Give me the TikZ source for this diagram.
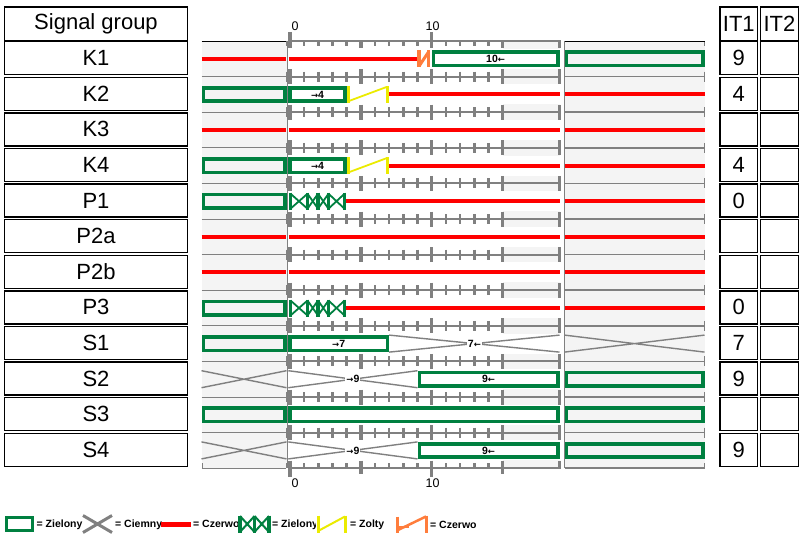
\documentclass[tikz,border=0pt]{standalone}
\usepackage{fontspec}
\setmainfont{Liberation Sans}
\newfontfamily\arrfont{DejaVu Sans}
\definecolor{sgreen}{RGB}{0,128,64}
\definecolor{sgray}{RGB}{128,128,128}
\definecolor{bggray}{RGB}{244,244,244}
\definecolor{sred}{RGB}{255,0,0}
\definecolor{syellow}{RGB}{235,235,0}
\definecolor{sorange}{RGB}{255,125,60}
\newcommand\gbox[4]{\draw[gbx,fill=#4] (#1+1.8,#3-6.7) rectangle (#2-1.8,#3+6.7);}
\newcommand\rline[3]{\draw[redl] (#1,#3) -- (#2,#3);}
\newcommand\xdark[3]{\draw[gxs] (#1,#3-8.5) -- (#2,#3+8.5) (#1,#3+8.5) -- (#2,#3-8.5);}
\newcommand\yelz[3]{%
  \draw[syellow,line width=3pt] (#1,#3-8.5) -- (#1,#3+8.5);
  \draw[syellow,line width=1.8pt] (#1+1,#3+6.5) -- (#2-1,#3-7.5);
  \draw[syellow,line width=3pt] (#2,#3-8.5) -- (#2,#3+8.5);}
\newcommand\flashg[1]{%
  \foreach \xa/\xb in {290.5/307.5,307.5/318,318/328.5,328.5/344.5}
    {\draw[sgreen,line width=1.8pt] (\xa,#1-7.5) -- (\xb,#1+7.5) (\xa,#1+7.5) -- (\xb,#1-7.5);}
  \foreach \xa in {290.5,307.5,318,328.5,344.5}
    {\draw[sgreen,line width=3.6pt] (\xa,#1-8.5) -- (\xa,#1+8.5);}}
\newcommand\rarr{{\arrfont\fontsize{8.5}{8.5}\selectfont →}}
\newcommand\larr{{\arrfont\fontsize{8.5}{8.5}\selectfont ←}}
\begin{document}
\begin{tikzpicture}[x=1pt,y=-1pt,
  lbl/.style={draw=black,line width=1.3pt,minimum width=183pt,minimum height=33pt,inner sep=0pt,font=\fontsize{22}{24}\selectfont},
  itbox/.style={draw=black,line width=1.3pt,minimum width=37.5pt,minimum height=33pt,inner sep=0pt,font=\fontsize{22}{24}\selectfont},
  axl/.style={font=\fontsize{12.5}{14}\selectfont,inner sep=0pt},
  btxt/.style={font=\bfseries\fontsize{10.5}{11}\selectfont,inner sep=1pt},
  leg/.style={font=\bfseries\fontsize{10.5}{12}\selectfont,inner sep=0pt,anchor=west},
  gbx/.style={draw=sgreen,line width=3.6pt},
  gxs/.style={draw=sgray,line width=1.4pt},
  redl/.style={draw=sred,line width=4pt},
  gridl/.style={draw=sgray,line width=2pt},
  tk/.style={draw=sgray,line width=2.6pt},
  tkM/.style={draw=sgray,line width=3.4pt},
  thinl/.style={draw=sgray,line width=1pt}]
\useasboundingbox (0,0) rectangle (802,535);
% header and label column
\node[lbl,minimum height=34pt] (hsg) at (96,24) {Signal group};
\node[itbox,minimum height=34pt] (hit1) at (738.8,24) {IT1};
\node[itbox,minimum height=34pt] (hit2) at (779.5,24) {IT2};
\foreach \nm/\v [count=\k] in {K1/9,K2/4,K3/,K4/4,P1/0,P2a/,P2b/,P3/0,S1/7,S2/9,S3/,S4/9}{
  \pgfmathsetmacro\yc{41+35.6*(\k-0.5)-0.6}
  \node[lbl] (sg\k) at (96,\yc) {\nm};
  \node[itbox] (ia\k) at (738.8,\yc) {\v};
  \node[itbox] (ib\k) at (779.5,\yc) {};
}
% backgrounds
\fill[bggray] (201.5,41) rectangle (287,468.2);
\fill[bggray] (502.6,41) rectangle (559.5,468.2);
\foreach \k in {1,...,12}{
  \pgfmathsetmacro\yc{41+35.6*(\k-0.5)}
  \fill[white] (502.6,\yc-10) rectangle (559.5,\yc+10);}
\fill[bggray] (564.5,41) rectangle (704.5,468.2);
% vertical boundaries
\draw[thinl] (287,41) -- (287,468.2);
\draw[sgray,line width=1.5pt] (564.5,41) -- (564.5,468.2);
% grid lines and ticks
\foreach \k in {0,...,12}{
  \pgfmathsetmacro\yb{41+35.6*\k}
  \pgfmathsetmacro\tkU{\k==0 ? 0 : 5}
  \pgfmathsetmacro\tkD{\k==12 ? 0 : 5}
  \pgfmathsetmacro\tkUM{\k==0 ? 0 : 7.5}
  \pgfmathsetmacro\tkDM{\k==12 ? 0 : 7.5}
  \draw[gridl] (289,\yb) -- (560.5,\yb);
  \foreach \t in {1,2,3,4,6,7,8,9,11,12,13,14}
    {\draw[tk] (290+14.17*\t,\yb-\tkU) -- (290+14.17*\t,\yb+\tkD);}
  \foreach \t in {0,5,10,15}
    {\draw[tkM] (290+14.17*\t,\yb-\tkUM) -- (290+14.17*\t,\yb+\tkDM);}
  \draw[tkM] (559.5,\yb-\tkUM) -- (559.5,\yb+\tkDM);
  \draw[thinl] (286,\yb-\tkU) -- (286,\yb+\tkD);
  \draw[sgray,line width=1.5pt] (704.5,\yb-\tkU) -- (704.5,\yb+\tkD);
}
\foreach \k in {1,...,12}{
  \pgfmathsetmacro\yb{41+35.6*\k}
  \draw[thinl] (201.5,\yb) -- (286,\yb);
  \draw[sgray,line width=1.5pt] (564.5,\yb) -- (704.5,\yb);}
\draw[thinl] (202,463) -- (202,468.2);
\draw[black,line width=0.8pt] (201.5,41) -- (286,41);
\draw[black,line width=0.8pt] (564.5,41) -- (704.5,41);
% long axis ticks and labels
\draw[tkM] (290,32) -- (290,48.5);
\draw[tkM] (431.7,32) -- (431.7,48.5);
\draw[tkM] (290,461) -- (290,477);
\draw[tkM] (431.7,461) -- (431.7,477);
\draw[tkM] (360.85,461) -- (360.85,474);
\draw[tkM] (502.55,461) -- (502.55,474);
\node[axl] (ta0) at (295,26) {0};
\node[axl] (ta10) at (432.5,26) {10};
\node[axl] (ba0) at (295,483) {0};
\node[axl] (ba10) at (432.5,483) {10};
% K1
\rline{201.5}{286}{58.8}
\rline{288.5}{417}{58.8}
\draw[sorange,line width=3.6pt] (418.7,50.3) -- (418.7,67.3);
\draw[sorange,line width=3pt] (419.5,65.5) -- (428.5,52);
\draw[sorange,line width=3.2pt] (428.6,50.3) -- (428.6,67.3);
\gbox{431.7}{559.5}{58.8}{white}
\gbox{564.5}{704.5}{58.8}{bggray}
\node[btxt] (t1) at (495.6,58.8) {10\larr};
% K2
\gbox{201.5}{286.5}{94.4}{bggray}
\gbox{288.3}{346.7}{94.4}{white}
\node[btxt] (t2) at (317.5,94.4) {\rarr4};
\yelz{348.2}{387.8}{94.4}
\rline{389}{559.5}{94.4}
\rline{564.5}{704.5}{94.4}
% K3
\rline{201.5}{286}{130}
\rline{288.5}{559.5}{130}
\rline{564.5}{704.5}{130}
% K4
\gbox{201.5}{286.5}{165.6}{bggray}
\gbox{288.3}{346.7}{165.6}{white}
\node[btxt] (t3) at (317.5,165.6) {\rarr4};
\yelz{348.2}{387.8}{165.6}
\rline{389}{559.5}{165.6}
\rline{564.5}{704.5}{165.6}
% P1
\gbox{201.5}{286.5}{201.2}{bggray}
\flashg{201.2}
\rline{346}{559.5}{201.2}
\rline{564.5}{704.5}{201.2}
% P2a
\rline{201.5}{286}{236.8}
\rline{288.5}{559.5}{236.8}
\rline{564.5}{704.5}{236.8}
% P2b
\rline{201.5}{286}{272.4}
\rline{288.5}{559.5}{272.4}
\rline{564.5}{704.5}{272.4}
% P3
\gbox{201.5}{286.5}{308}{bggray}
\flashg{308}
\rline{346}{559.5}{308}
\rline{564.5}{704.5}{308}
% S1
\gbox{201.5}{286.5}{343.6}{bggray}
\gbox{288.3}{389.2}{343.6}{white}
\node[btxt] (t4) at (338.7,343.6) {\rarr7};
\xdark{389.2}{559.5}{343.6}
\node[btxt,fill=white] (t5) at (474.4,343.6) {7\larr};
\xdark{564.5}{704.5}{343.6}
% S2
\xdark{201.5}{286.5}{379.2}
\xdark{288.3}{417.5}{379.2}
\node[btxt,fill=white] (t6) at (352.9,379.2) {\rarr9};
\gbox{417.5}{559.5}{379.2}{white}
\node[btxt] (t7) at (488.5,379.2) {9\larr};
\gbox{564.5}{704.5}{379.2}{bggray}
% S3
\gbox{201.5}{286.5}{414.8}{bggray}
\gbox{288.3}{559.5}{414.8}{white}
\gbox{564.5}{704.5}{414.8}{bggray}
% S4
\xdark{201.5}{286.5}{450.4}
\xdark{288.3}{417.5}{450.4}
\node[btxt,fill=white] (t8) at (352.9,450.4) {\rarr9};
\gbox{417.5}{559.5}{450.4}{white}
\node[btxt] (t9) at (488.5,450.4) {9\larr};
\gbox{564.5}{704.5}{450.4}{bggray}
% legend
\begin{scope}
\clip (0,505) rectangle (476,535);
\draw[gbx,line width=3.4pt] (6.7,517.7) rectangle (32.3,530.3);
\node[leg] (lg1) at (36.5,524.5) {= Zielony};
\draw[sgray,line width=3pt] (83,515.5) -- (112,532.5) (83,532.5) -- (112,515.5);
\node[leg] (lg2) at (115,524.5) {= Ciemny};
\draw[redl,line width=5pt] (161,524.5) -- (191,524.5);
\node[leg] (lg3) at (193,524.5) {= Czerwony};
\fill[white] (237.5,512) rectangle (271,535);
\foreach \xa/\xb in {240/254.5,254.5/269}
  {\draw[sgreen,line width=2pt] (\xa,516) -- (\xb,532) (\xa,532) -- (\xb,516);}
\foreach \xa in {240,254.5,269}
  {\draw[sgreen,line width=3.4pt] (\xa,515.5) -- (\xa,532.5);}
\node[leg] (lg4) at (272,524.5) {= Zielony\_};
\fill[white] (316,512) rectangle (347.5,535);
\draw[syellow,line width=3pt] (318,515.5) -- (318,532.5);
\draw[syellow,line width=2pt] (319,530.5) -- (345,516.5);
\draw[syellow,line width=3pt] (345.5,515.5) -- (345.5,532.5);
\node[leg] (lg5) at (350,524.5) {= Zolty};
\draw[sorange,line width=3pt] (397,516.5) -- (397,532.5);
\draw[sorange,line width=2.5pt] (397,527) -- (409,527);
\draw[sorange,line width=2.5pt] (398,530) -- (426,516.5);
\draw[sorange,line width=3pt] (426.5,515.5) -- (426.5,532.5);
\node[leg] (lg6) at (430,524.5) {= Czerwono};
\end{scope}
\end{tikzpicture}
\end{document}
